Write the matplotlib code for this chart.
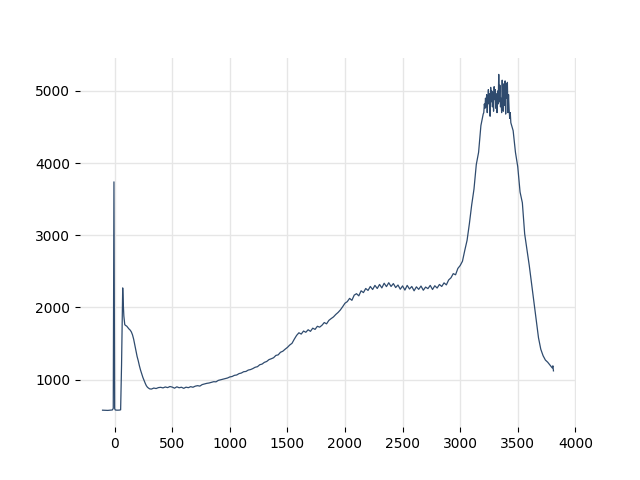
import numpy as np
import matplotlib
matplotlib.use('Agg')
import matplotlib.pyplot as plt

# spike / early part
x_head = [-105, -60, -20, -12, -6, 0, 5, 20, 40, 52, 60, 70, 75, 80, 88,
          95, 105, 115, 125, 135, 145, 155, 165, 175, 185, 195, 205, 215,
          225, 235, 245, 255, 265, 275, 285, 295, 305, 320, 340, 360, 380]
y_head = [575, 572, 578, 600, 3740, 600, 578, 575, 576, 580, 1200, 2270,
          2050, 1880, 1760, 1750, 1740, 1720, 1700, 1685, 1660, 1620, 1560,
          1480, 1400, 1320, 1260, 1190, 1130, 1080, 1030, 990, 950, 915,
          893, 880, 870, 868, 882, 875, 888]

# 400 .. 3200, every 20 units
y_body = [
    892, 884, 897, 888, 903, 895, 880, 899, 886, 893,
    878, 894, 887, 901, 893, 908, 915, 909, 930, 938,
    947, 952, 961, 970, 968, 988, 996, 1003, 1012, 1021,
    1036, 1042, 1058, 1063, 1082, 1090, 1108, 1112, 1131, 1138,
    1152, 1170, 1178, 1205, 1214, 1238, 1250, 1276, 1288, 1302,
    1334, 1342, 1378, 1392, 1420, 1445, 1478, 1502, 1560, 1612,
    1648, 1630, 1672, 1655, 1690, 1668, 1712, 1695, 1738, 1726,
    1752, 1790, 1772, 1820, 1845, 1868, 1902, 1930, 1965, 2010,
    2058, 2080, 2125, 2098, 2170, 2190, 2160, 2230, 2205, 2262,
    2235, 2290, 2248, 2305, 2262, 2318, 2270, 2335, 2288, 2342,
    2290, 2330, 2275, 2310, 2252, 2298, 2240, 2305, 2255, 2290,
    2230, 2285, 2250, 2296, 2238, 2282, 2260, 2305, 2248, 2300,
    2268, 2318, 2290, 2340, 2312, 2380, 2410, 2468, 2452, 2540,
    2580, 2640, 2790, 2930, 3160, 3420, 3640, 3980, 4150, 4520,
    4680,
]

# noisy top of the peak, 3205 .. 3440, every 5 units
y_peak = [
    4700, 4820, 4760, 4900, 4780, 4950, 4700, 4880,
    5020, 4820, 4960, 4650, 5050, 4850, 5000, 4780,
    4980, 4720, 5060, 4880, 5020, 4760, 4960, 4700,
    5000, 4820, 5230, 4850, 5080, 4780, 4900, 4700,
    5150, 4880, 4720, 5100, 4800, 5140, 4680, 5100,
    4900, 5120, 4700, 4950, 4750, 4620, 4700, 4560,
]

# falling side, 3460 .. 3800, every 20 units
y_fall = [4450, 4150, 3950, 3600, 3450, 3020, 2800, 2580, 2330,
          2080, 1830, 1580, 1420, 1330, 1270, 1240, 1200, 1160]

x_tail = [3805, 3810]
y_tail = [1190, 1120]

x_body = list(400 + 20 * np.arange(len(y_body)))
x_peak = list(3205 + 5 * np.arange(len(y_peak)))
x_fall = list(3460 + 20 * np.arange(len(y_fall)))

x = x_head + x_body + x_peak + x_fall + x_tail
y = y_head + y_body + y_peak + y_fall + y_tail

fig, ax = plt.subplots(figsize=(6.4, 4.8), dpi=100)
ax.plot(x, y, color='#2f4b6e', linewidth=0.9)

ax.grid(True, color='#e6e6e6', linewidth=1)
ax.set_axisbelow(True)
for s in ax.spines.values():
    s.set_visible(False)

fig.savefig('out.png', dpi=100)
